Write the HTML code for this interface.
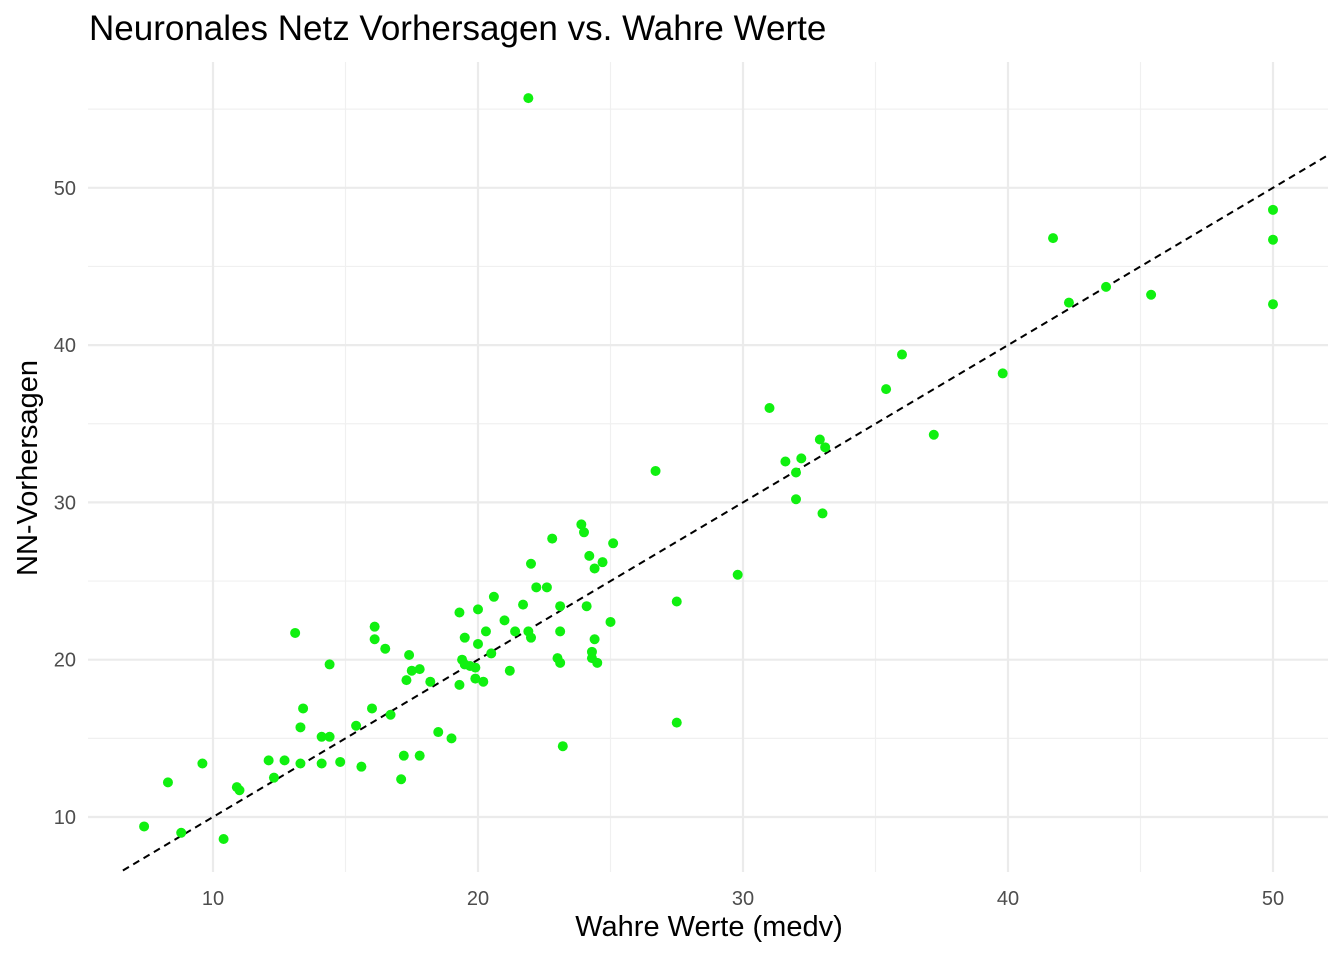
<!DOCTYPE html>
<html><head><meta charset="utf-8"><style>
body{margin:0;background:#fff;}
svg{display:block;font-family:"Liberation Sans",Arial,sans-serif;}
</style></head><body>
<svg id="chart" width="1344" height="960">
<text x="89" y="40" font-size="35" fill="#000">Neuronales Netz Vorhersagen vs. Wahre Werte</text>
<g id="grid"></g>
<g id="ticks"></g>
<line id="refline" stroke="#000" stroke-width="2" stroke-dasharray="7,5"></line>
<g id="pts"></g>
<text x="709" y="936" font-size="29" text-anchor="middle" fill="#000">Wahre Werte (medv)</text>
<text transform="translate(37,468) rotate(-90)" font-size="29" text-anchor="middle" fill="#000">NN-Vorhersagen</text>
</svg>
<script>
const xTicks=[10,20,30,40,50];
const yTicks=[10,20,30,40,50];
const xMinor=[15,25,35,45];
const yMinor=[15,25,35,45,55];
const trueVals=[7.4,8.3,8.8,9.6,10.4,10.9,11.0,12.1,12.3,12.7,13.1,13.3,13.3,13.4,14.1,14.1,14.4,14.4,14.8,15.4,15.6,16.0,16.1,16.1,16.5,16.7,17.1,17.2,17.3,17.4,17.5,17.8,17.8,18.2,18.5,19.0,19.3,19.3,19.4,19.5,19.5,19.7,19.9,19.9,20.0,20.0,20.2,20.3,20.5,20.6,21.0,21.2,21.4,21.7,21.9,21.9,22.0,22.0,22.2,22.6,22.8,23.0,23.1,23.1,23.1,23.2,23.9,24.0,24.1,24.2,24.3,24.3,24.4,24.4,24.5,24.7,25.0,25.1,26.7,27.5,27.5,29.8,31.0,31.6,32.0,32.0,32.2,32.9,33.0,33.1,35.4,36.0,37.2,39.8,41.7,42.3,43.7,45.4,50,50,50];
const predVals=[9.4,12.2,9.0,13.4,8.6,11.9,11.7,13.6,12.5,13.6,21.7,15.7,13.4,16.9,15.1,13.4,15.1,19.7,13.5,15.8,13.2,16.9,22.1,21.3,20.7,16.5,12.4,13.9,18.7,20.3,19.3,13.9,19.4,18.6,15.4,15.0,23.0,18.4,20.0,21.4,19.7,19.6,19.5,18.8,23.2,21.0,18.6,21.8,20.4,24.0,22.5,19.3,21.8,23.5,55.7,21.8,21.4,26.1,24.6,24.6,27.7,20.1,23.4,19.8,21.8,14.5,28.6,28.1,23.4,26.6,20.5,20.1,25.8,21.3,19.8,26.2,22.4,27.4,32.0,16.0,23.7,25.4,36.0,32.6,31.9,30.2,32.8,34.0,29.3,33.5,37.2,39.4,34.3,38.2,46.8,42.7,43.7,43.2,48.6,46.7,42.6];
const lineRange=[6.6,52.0];
const NS='http://www.w3.org/2000/svg';
const L=88,R=1328,T=62,B=872;
const sx=v=>213+(v-10)*26.5;
const sy=v=>817-(v-10)*15.73;
function mk(tag,attrs,parent){const e=document.createElementNS(NS,tag);for(const k in attrs)e.setAttribute(k,attrs[k]);parent.appendChild(e);return e;}
const grid=document.getElementById('grid'),ticks=document.getElementById('ticks'),pts=document.getElementById('pts');
xMinor.forEach(v=>{const l=mk('line',{x1:sx(v),x2:sx(v),y1:T,y2:B,stroke:'#f0f0f0','stroke-width':1.2},grid);

});
yMinor.forEach(v=>{const l=mk('line',{x1:L,x2:R,y1:sy(v),y2:sy(v),stroke:'#f0f0f0','stroke-width':1.2},grid);

});
xTicks.forEach(v=>{const l=mk('line',{x1:sx(v),x2:sx(v),y1:T,y2:B,stroke:'#ebebeb','stroke-width':2.2},grid);


const t=mk('text',{x:sx(v),y:905,'font-size':20,'text-anchor':'middle',fill:'#4d4d4d'},ticks);t.textContent=v;

});
yTicks.forEach(v=>{const l=mk('line',{x1:L,x2:R,y1:sy(v),y2:sy(v),stroke:'#ebebeb','stroke-width':2.2},grid);


const t=mk('text',{x:76,y:sy(v)+7,'font-size':20,'text-anchor':'end',fill:'#4d4d4d'},ticks);t.textContent=v;

});
const rl=document.getElementById('refline');
rl.setAttribute('x1',sx(lineRange[0]));rl.setAttribute('y1',sy(lineRange[0]));
rl.setAttribute('x2',sx(lineRange[1]));rl.setAttribute('y2',sy(lineRange[1]));
trueVals.forEach((v,i)=>{const c=mk('circle',{cx:sx(v),cy:sy(predVals[i]),r:5,fill:'#10f010'},pts);

});
</script>
</body></html>
